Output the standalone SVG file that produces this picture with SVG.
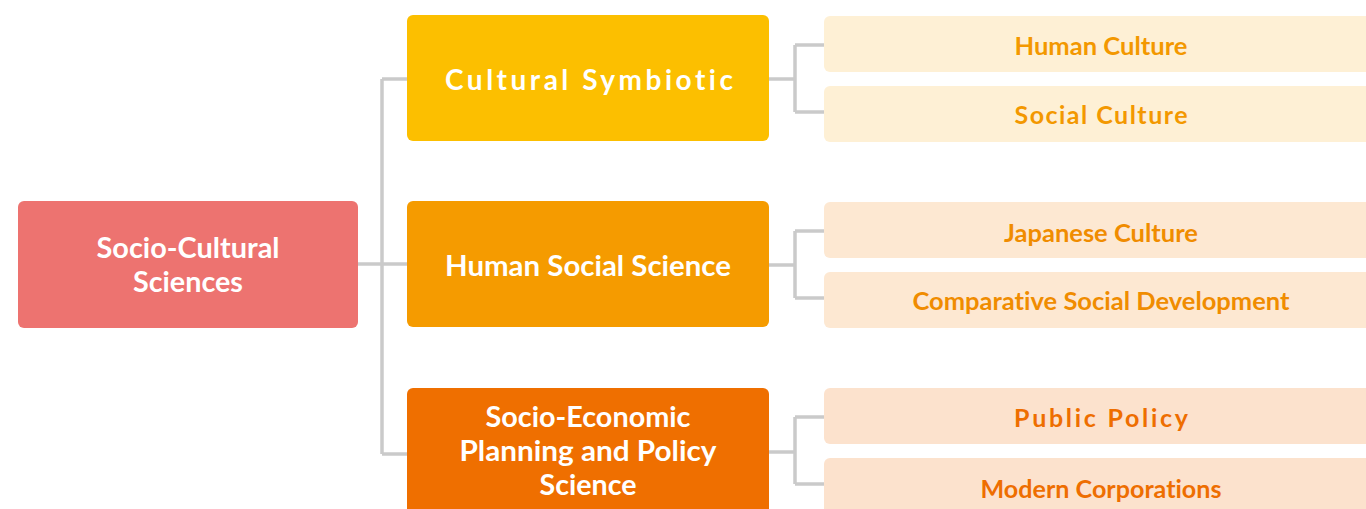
<svg xmlns="http://www.w3.org/2000/svg" width="1366" height="509" viewBox="0 0 1366 509">
<style>
  .lbl { font-family: Lato, "Noto Sans", sans-serif; font-weight: 700; text-anchor: middle; font-variant-ligatures: none; font-feature-settings: "liga" 0, "dlig" 0; }
  .w { fill: #ffffff; font-size: 28px; }
  .leaf { font-size: 25px; }
  .conn { fill: none; stroke: #cacaca; stroke-width: 3.5; stroke-linejoin: round; }
</style>
<rect width="1366" height="509" fill="#ffffff"/>
<g id="connectors">
  <path class="conn" d="M358,264 H382 M382,79 V454 M382,79 H407 M382,264 H407 M382,454 H407"/>
  <path class="conn" d="M769,79 H795 M795,45 V112 M795,45 H824 M795,112 H824"/>
  <path class="conn" d="M769,265 H795 M795,231 V298 M795,231 H824 M795,298 H824"/>
  <path class="conn" d="M769,452 H795 M795,417 V484 M795,417 H824 M795,484 H824"/>
</g>
<g id="root">
  <rect x="18" y="201" width="340" height="127" rx="6" fill="#ed7370"/>
  <text class="lbl w" x="188" y="258" textLength="183" lengthAdjust="spacingAndGlyphs">Socio-Cultural</text>
  <text class="lbl w" x="188" y="292" textLength="110" lengthAdjust="spacingAndGlyphs">Sciences</text>
</g>
<g id="cultural-symbiotic">
  <rect x="407" y="15" width="362" height="126" rx="6" fill="#fcbf00"/>
  <text class="lbl w" x="589" y="90" textLength="288" lengthAdjust="spacing">Cultural Symbiotic</text>
</g>
<g id="human-social-science">
  <rect x="407" y="201" width="362" height="126" rx="6" fill="#f59b00"/>
  <text class="lbl w" x="588" y="276" textLength="286" lengthAdjust="spacingAndGlyphs">Human Social Science</text>
</g>
<g id="socio-economic">
  <rect x="407" y="388" width="362" height="140" rx="6" fill="#ef6f00"/>
  <text class="lbl w" x="588" y="427" textLength="205" lengthAdjust="spacingAndGlyphs">Socio-Economic</text>
  <text class="lbl w" x="588" y="461" textLength="257" lengthAdjust="spacingAndGlyphs">Planning and Policy</text>
  <text class="lbl w" x="588" y="495" textLength="97" lengthAdjust="spacingAndGlyphs">Science</text>
</g>
<g id="human-culture">
  <rect x="824" y="16" width="560" height="56" rx="6" fill="#fef0d5"/>
  <text class="lbl leaf" x="1101" y="55" fill="#f39800" textLength="173" lengthAdjust="spacingAndGlyphs">Human Culture</text>
</g>
<g id="social-culture">
  <rect x="824" y="86" width="560" height="56" rx="6" fill="#fef0d5"/>
  <text class="lbl leaf" x="1101" y="124" fill="#f39800" textLength="173" lengthAdjust="spacing">Social Culture</text>
</g>
<g id="japanese-culture">
  <rect x="824" y="202" width="560" height="56" rx="6" fill="#fde8d2"/>
  <text class="lbl leaf" x="1101" y="242" fill="#f08c00" textLength="194" lengthAdjust="spacingAndGlyphs">Japanese Culture</text>
</g>
<g id="comparative-social-development">
  <rect x="824" y="272" width="560" height="56" rx="6" fill="#fde8d2"/>
  <text class="lbl leaf" x="1101" y="310" fill="#f08c00" textLength="377" lengthAdjust="spacingAndGlyphs">Comparative Social Development</text>
</g>
<g id="public-policy">
  <rect x="824" y="388" width="560" height="56" rx="6" fill="#fce2cd"/>
  <text class="lbl leaf" x="1101" y="427" fill="#ee6e00" textLength="174" lengthAdjust="spacing">Public Policy</text>
</g>
<g id="modern-corporations">
  <rect x="824" y="458" width="560" height="70" rx="6" fill="#fce2cd"/>
  <text class="lbl leaf" x="1101" y="498" fill="#ee6e00" textLength="241" lengthAdjust="spacingAndGlyphs">Modern Corporations</text>
</g>
</svg>
